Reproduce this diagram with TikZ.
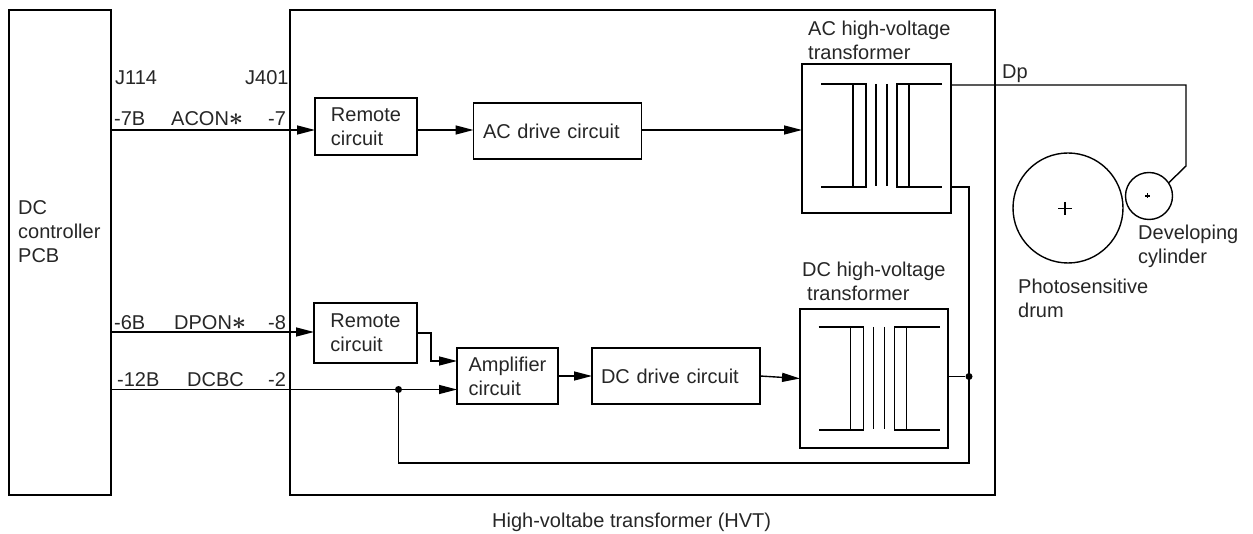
\documentclass[tikz,border=0pt]{standalone}
\usepackage{fontspec}
\setmainfont{Liberation Sans}
\usetikzlibrary{arrows.meta}
\newcommand{\sigstar}{{\fontsize{25}{25}\selectfont\boldmath$\ast$}}
\tikzset{
  blockbox/.style={draw, line width=1.4pt, inner sep=0pt, outer sep=0pt, align=left},
  frame/.style={draw, line width=2pt, inner sep=0pt, outer sep=0pt},
  lbl/.style={anchor=base west, inner sep=0pt, align=left},
  wire/.style={line width=1.4pt},
  flow/.style={line width=1.4pt, -{Triangle[length=18pt,width=9pt]}},
  junction/.style={circle, fill=black, inner sep=0pt, minimum size=7pt}
}
\begin{document}
\begin{tikzpicture}[x=1pt, y=-1pt, every node/.style={font=\fontsize{20}{24}\selectfont, text=black!85}]
  \useasboundingbox (0,0) rectangle (1253,534);

  % outer frames
  \node[frame, minimum width=102pt, minimum height=485pt] (pcb) at (60,252.5) {};
  \node[frame, minimum width=705pt, minimum height=485pt] (hvt) at (642.5,252.5) {};

  % blocks
  \node[blockbox, minimum width=102pt, minimum height=57pt] (remoteA) at (366,126.5) {Remote\\circuit};
  \node[blockbox, minimum width=168pt, minimum height=56pt, text width=149pt] (acdrive) at (557.5,131) {AC drive circuit};
  \node[blockbox, minimum width=149pt, minimum height=149pt] (actrans) at (876.5,138.5) {};
  \node[blockbox, minimum width=103pt, minimum height=60pt] (remoteB) at (365.5,333) {Remote\\circuit};
  \node[blockbox, minimum width=101pt, minimum height=56pt] (amp) at (507.5,376) {Amplifier\\circuit};
  \node[blockbox, minimum width=168pt, minimum height=56pt, text width=150pt] (dcdrive) at (676,376) {DC drive circuit};
  \node[blockbox, minimum width=148pt, minimum height=139pt] (dctrans) at (874,378.5) {};

  % transformer windings
  \foreach \sx/\sy in {0/0,-2.5/243} {
    \begin{scope}[shift={(\sx,\sy)}, line width=1.4pt]
      \draw (821,84) -- (866,84) -- (866,187) -- (821,187);
      \draw (853,84) -- (853,187);
      \draw (876,84) -- (876,186);
      \draw (887,84) -- (887,186);
      \draw (942,84) -- (897,84) -- (897,187) -- (942,187);
      \draw (909,84) -- (909,187);
    \end{scope}
  }

  % drum and cylinder
  \node[circle, draw, line width=1.4pt, inner sep=0pt, minimum size=110pt] (drum) at (1068,208) {};
  \node[circle, draw, line width=1.4pt, inner sep=0pt, minimum size=47pt] (devcyl) at (1149,196) {};
  \draw[wire] (1058,208.5) -- (1072,208.5);
  \draw[wire] (1065,202) -- (1065,215);
  \draw[wire] (1145,196) -- (1150,196);
  \draw[wire] (1147.5,193.5) -- (1147.5,198.5);

  % junctions
  \node[junction] (dotA) at (398.5,389.5) {};
  \node[junction] (dotB) at (969,376.5) {};

  % signal lines
  \draw[flow] (pcb.east |- 0,130) -- (remoteA.west |- 0,130);
  \draw[flow] (remoteA.east |- 0,130) -- (acdrive.west |- 0,130);
  \draw[flow] (acdrive.east |- 0,130) -- (actrans.west |- 0,130);
  \draw[flow] (pcb.east |- 0,332) -- (remoteB.west |- 0,332);
  \draw[flow] (remoteB.east |- 0,333) -- (431,333) -- (431,361) -- (amp.west |- 0,361);
  \draw[flow] (pcb.east |- dotA) -- (amp.west |- dotA);
  \draw[flow] (amp.east) -- (dcdrive.west);
  \draw[flow] (dcdrive.east) -- (dctrans.west);

  % feedback
  \draw[wire] (actrans.east |- 0,187) -- (dotB |- 0,187) -- (dotB |- 0,463) -- (dotA |- 0,463) -- (dotA);
  \draw[wire] (dctrans.east |- dotB) -- (dotB);

  % output to cylinder
  \draw[wire] (actrans.east |- 0,85) -- (1186,85) -- (1186,166) -- (devcyl.34);

  % labels
  \node[lbl] (jA) at (115,85) {J114};
  \node[lbl] (jB) at (245,85) {J401};
  \node[lbl] (pinA) at (114,126) {-7B};
  \node[lbl] (sigA) at (171,126) {ACON\sigstar};
  \node[lbl] (pinB) at (268,126) {-7};
  \node[lbl] (pinC) at (114,330) {-6B};
  \node[lbl] (sigB) at (174,330) {DPON\sigstar};
  \node[lbl] (pinD) at (268,330) {-8};
  \node[lbl] (pinE) at (117,387) {-12B};
  \node[lbl] (sigC) at (187,387) {DCBC};
  \node[lbl] (pinF) at (268,387) {-2};
  \node[lbl] (pcbtext) at (18,263) {DC\\controller\\PCB};
  \node[lbl] (actext) at (808,60) {AC high-voltage\\transformer};
  \node[lbl] (dctext) at (802,301) {DC high-voltage\\\hspace*{5pt}transformer};
  \node[lbl] (dp) at (1002,79) {Dp};
  \node[lbl] (devtext) at (1138,264) {Developing\\cylinder};
  \node[lbl] (drumtext) at (1018,318) {Photosensitive\\drum};
  \node[lbl] (hvttext) at (492,527) {High-voltabe transformer (HVT)};
\end{tikzpicture}
\end{document}
